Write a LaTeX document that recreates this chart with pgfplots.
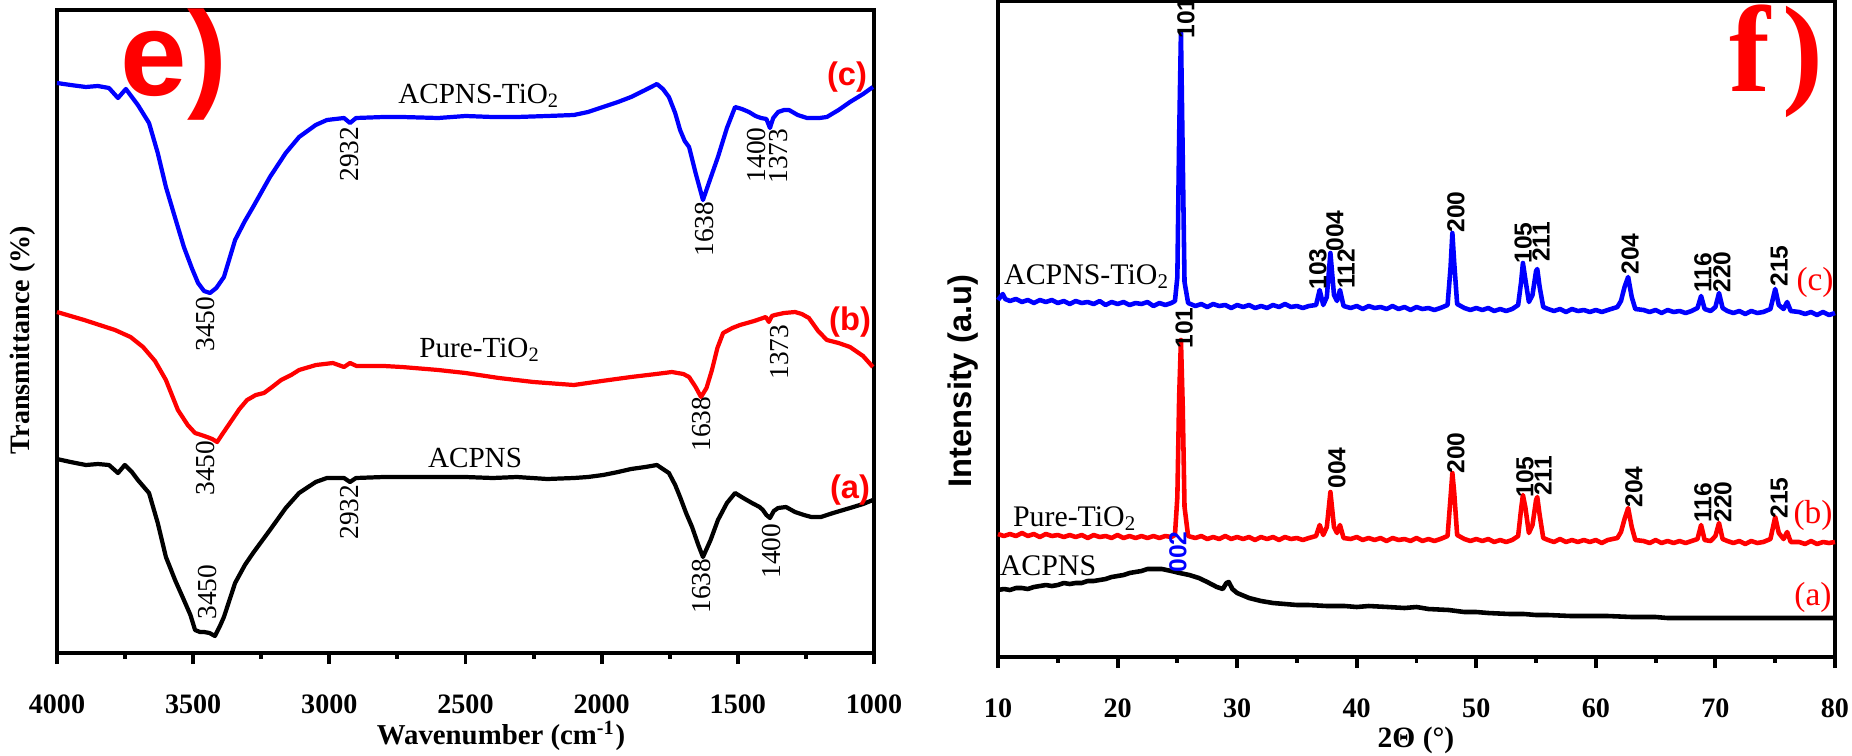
\documentclass[border=0pt]{standalone}
\usepackage{fontspec}
\setmainfont{Liberation Serif}
\setsansfont{Liberation Sans}
\usepackage{pgfplots}
\pgfplotsset{compat=1.18}
\newcommand\fs[1]{\fontsize{#1}{#1}\selectfont}

\pgfplotsset{
  panel/.style={
    scale only axis, anchor=south west, clip=false,
    ytick=\empty, tick align=outside, xtick pos=bottom,
    major tick length=1.1mm, minor tick length=0.55mm,
    minor x tick num=1,
    axis line style={line width=1.1pt},
    every tick/.style={line width=1.1pt, black},
    xticklabel style={font=\fs{8}\bfseries},
    /pgf/number format/assume math mode=true,
    /pgf/number format/1000 sep={},
    xticklabel shift=1.8mm,
  },
}
\tikzset{
  pk/.style={rotate=90, font=\fs{7.8}, inner sep=0pt},
  hkl/.style={rotate=90, font=\sffamily\bfseries\fs{7}, inner sep=0pt},
  cl/.style={font=\fs{8.3}, inner sep=0pt},
}

\begin{document}
\begin{tikzpicture}
\useasboundingbox (0,0) rectangle (18.52,7.55);

% ---------------- e) FTIR
\begin{axis}[panel, at={(0.57cm,1.02cm)}, width=8.17cm, height=6.43cm,
  x dir=reverse, xmin=1000, xmax=4000, ymin=0, ymax=643,
  xtick={1000,1500,...,4000}]
\addplot[blue, line width=1.2pt, line join=round] coordinates {
(4000,570)(3950,568)(3894,566)(3850,567)(3809,565)(3776,555)(3747,564)(3725,556)(3703,548)(3662,530)(3630,500)(3600,466)(3565,434)(3534,406)(3505,385)(3482,370)(3460,362)(3438,360)(3415,365)(3387,376)(3346,413)(3310,432)(3280,446)(3218,476)(3160,500)(3111,516)(3050,528)(3009,533)(2946,535)(2924,530)(2902,535)(2800,536)(2733,536)(2600,535)(2500,537)(2400,536)(2311,536)(2200,537)(2102,538)(2050,541)(1995,546)(1940,551)(1892,556)(1840,563)(1797,569)(1775,564)(1753,556)(1730,540)(1712,523)(1695,512)(1679,506)(1655,480)(1628,453)(1600,475)(1573,496)(1540,525)(1510,546)(1485,544)(1459,541)(1435,537)(1415,535)(1395,534)(1382,525)(1370,535)(1352,541)(1330,543)(1312,543)(1280,538)(1246,535)(1200,535)(1173,536)(1130,543)(1088,551)(1040,559)(1004,566)};
\addplot[red, line width=1.2pt, line join=round] coordinates {
(4000,341)(3900,333)(3787,323)(3730,316)(3684,306)(3640,292)(3600,273)(3556,243)(3520,228)(3493,220)(3470,218)(3449,216)(3430,214)(3412,211)(3390,220)(3365,230)(3330,244)(3302,253)(3270,258)(3240,260)(3210,266)(3177,273)(3140,278)(3111,283)(3049,288)(2987,290)(2946,286)(2924,290)(2900,287)(2800,287)(2733,286)(2600,283)(2500,280)(2377,275)(2250,271)(2102,268)(2000,272)(1892,276)(1800,279)(1742,281)(1700,279)(1679,276)(1655,266)(1635,256)(1615,265)(1595,283)(1575,305)(1554,320)(1520,325)(1492,328)(1440,332)(1397,336)(1386,331)(1375,337)(1364,338)(1330,340)(1290,341)(1265,339)(1239,335)(1205,322)(1173,313)(1130,310)(1088,306)(1040,297)(1004,286)};
\addplot[black, line width=1.2pt, line join=round] coordinates {
(4000,194)(3950,191)(3894,188)(3850,189)(3809,188)(3776,180)(3751,188)(3725,181)(3703,173)(3662,160)(3630,130)(3600,96)(3565,72)(3534,53)(3510,38)(3493,23)(3475,21)(3460,21)(3440,20)(3420,17)(3400,28)(3387,36)(3346,70)(3310,88)(3280,100)(3218,123)(3160,145)(3111,160)(3050,171)(3009,175)(2946,175)(2924,171)(2902,175)(2800,176)(2733,176)(2600,176)(2500,176)(2400,175)(2311,176)(2200,174)(2102,175)(2050,176)(1995,178)(1940,181)(1892,184)(1840,186)(1797,188)(1775,184)(1753,180)(1730,168)(1712,156)(1690,140)(1668,126)(1645,108)(1628,96)(1600,113)(1573,133)(1540,150)(1510,160)(1480,155)(1448,150)(1420,146)(1408,143)(1395,138)(1382,135)(1368,142)(1352,145)(1323,146)(1290,141)(1257,138)(1230,136)(1195,136)(1150,140)(1088,145)(1040,149)(1004,153)};
% peak labels
\node[pk] at (axis cs:3453,329) {3450};
\node[pk] at (axis cs:2924,499) {2932};
\node[pk] at (axis cs:1621,424) {1638};
\node[pk] at (axis cs:1433,498) {1400};
\node[pk] at (axis cs:1349,497) {1373};
\node[pk] at (axis cs:3453,185) {3450};
\node[pk] at (axis cs:1632,229) {1638};
\node[pk] at (axis cs:1345,301) {1373};
\node[pk] at (axis cs:3449,61) {3450};
\node[pk] at (axis cs:2924,141) {2932};
\node[pk] at (axis cs:1632,67) {1638};
\node[pk] at (axis cs:1378,102) {1400};
\node[cl] at (axis cs:2450,557) {ACPNS-TiO\textsubscript{2}};
\node[cl] at (axis cs:2447,303) {Pure-TiO\textsubscript{2}};
\node[cl] at (axis cs:2465,195) {ACPNS};
\node[font=\sffamily\bfseries\fs{9.3}, text=red, inner sep=0pt] at (axis cs:1099,576) {(c)};
\node[font=\sffamily\bfseries\fs{9.3}, text=red, inner sep=0pt] at (axis cs:1088,331) {(b)};
\node[font=\sffamily\bfseries\fs{9.3}, text=red, inner sep=0pt] at (axis cs:1088,163) {(a)};
\end{axis}

% ---------------- f) XRD
\begin{axis}[panel, at={(9.98cm,0.98cm)}, width=8.37cm, height=6.56cm,
  xmin=10, xmax=80, ymin=0, ymax=656, xtick={10,20,...,80},
  axis line style={line width=1.3pt}]
\addplot[blue, line width=1.3pt, line join=round] coordinates {
(10,357)(10.2,360)(10.4,363)(10.6,358)(11,356)(11.5,358)(12,355)(12.5,357)(13,354)(13.5,357)(14,355)(14.5,357)(15,354)(15.5,356)(16,353)(16.5,356)(17,354)(17.5,355)(18,353)(18.5,356)(19,352)(19.5,355)(20,353)(20.5,355)(21,352)(21.5,354)(22,353)(22.5,355)(23,351)(23.5,354)(24,352)(24.5,354)(24.8,356)(25.0,380)(25.15,520)(25.3,625)(25.45,500)(25.6,375)(25.9,354)(26.5,351)(27,353)(27.5,350)(28,353)(28.5,351)(29,352)(29.5,349)(30,352)(30.5,350)(31,352)(31.5,349)(32,351)(32.5,349)(33,352)(33.5,350)(34,353)(34.5,350)(35,351)(35.5,349)(36,351)(36.6,352)(36.9,367)(37.2,352)(37.5,360)(37.8,404)(38.1,362)(38.35,356)(38.6,367)(38.9,351)(39.5,349)(40,351)(40.5,348)(41,351)(41.5,349)(42,350)(42.5,348)(43,351)(43.5,348)(44,350)(44.5,347)(45,350)(45.5,348)(46,349)(46.5,347)(47,349)(47.6,352)(47.85,390)(48.0,424)(48.15,395)(48.4,353)(49,349)(49.5,347)(50,349)(50.5,347)(51,349)(51.5,346)(52,348)(52.5,346)(53,348)(53.5,352)(53.75,375)(53.9,394)(54.1,378)(54.4,355)(54.7,362)(55.0,386)(55.1,388)(55.3,370)(55.6,350)(56,348)(56.5,346)(57,348)(57.5,345)(58,348)(58.5,346)(59,347)(59.5,345)(60,347)(60.5,345)(61,347)(61.8,350)(62.1,356)(62.4,370)(62.7,380)(63.0,360)(63.3,348)(64,347)(64.5,345)(65,347)(65.5,344)(66,347)(66.5,345)(67,346)(67.5,344)(68,346)(68.5,349)(68.8,361)(69.1,348)(69.6,346)(70.0,350)(70.3,364)(70.6,349)(71,346)(71.5,344)(72,346)(72.5,343)(73,346)(73.5,344)(74,345)(74.6,348)(75.0,368)(75.3,352)(75.7,348)(76.0,355)(76.3,346)(77,345)(77.5,343)(78,345)(78.5,342)(79,345)(79.5,342)(80,344)};
\addplot[red, line width=1.3pt, line join=round] coordinates {
(10,123)(10.5,121)(11,123)(11.5,121)(12,124)(12.5,121)(13,123)(13.5,120)(14,123)(14.5,121)(15,122)(15.5,120)(16,122)(16.5,120)(17,122)(17.5,119)(18,122)(18.5,120)(19,121)(19.5,119)(20,122)(20.5,119)(21,121)(21.5,119)(22,121)(22.5,119)(23,121)(23.5,119)(24,121)(24.5,120)(24.8,122)(25.0,160)(25.15,260)(25.3,317)(25.45,250)(25.6,150)(25.9,121)(26.5,119)(27,121)(27.5,118)(28,120)(28.5,118)(29,121)(29.5,118)(30,120)(30.5,118)(31,120)(31.5,117)(32,120)(32.5,118)(33,120)(33.5,117)(34,120)(34.5,118)(35,119)(35.5,117)(36,119)(36.6,121)(36.9,132)(37.2,122)(37.5,130)(37.8,165)(38.1,130)(38.35,124)(38.6,132)(38.9,119)(39.5,118)(40,120)(40.5,117)(41,119)(41.5,117)(42,119)(42.5,116)(43,119)(43.5,117)(44,118)(44.5,116)(45,119)(45.5,116)(46,118)(46.5,116)(47,118)(47.6,121)(47.85,160)(48.0,184)(48.15,165)(48.4,122)(49,118)(49.5,116)(50,118)(50.5,116)(51,118)(51.5,115)(52,117)(52.5,115)(53,117)(53.5,121)(53.75,148)(53.9,162)(54.1,150)(54.4,124)(54.7,132)(55.0,157)(55.1,160)(55.3,142)(55.6,119)(56,117)(56.5,115)(57,118)(57.5,115)(58,117)(58.5,115)(59,117)(59.5,115)(60,117)(60.5,114)(61,117)(61.8,119)(62.1,125)(62.4,138)(62.7,149)(63.0,130)(63.3,117)(64,116)(64.5,114)(65,117)(65.5,114)(66,116)(66.5,114)(67,116)(67.5,114)(68,116)(68.5,118)(68.8,132)(69.1,117)(69.6,116)(70.0,121)(70.3,134)(70.6,118)(71,116)(71.5,114)(72,116)(72.5,113)(73,116)(73.5,114)(74,115)(74.6,118)(75.0,140)(75.3,124)(75.7,118)(76.0,125)(76.3,115)(77,115)(77.5,113)(78,116)(78.5,113)(79,115)(79.5,114)(80,115)};
\addplot[black, line width=1.3pt, line join=round] coordinates {
(10,67)(10.5,68)(11,67)(11.5,69)(12,69)(12.5,68)(13,70)(13.5,71)(14,72)(14.5,71)(15,72)(15.5,74)(16,73)(16.5,74)(17,74)(17.5,76)(18,76)(18.5,77)(19,78)(19.5,80)(20,81)(20.5,82)(21,84)(21.5,85)(22,86)(22.5,88)(23,88)(23.7,88)(24.5,86)(25.2,84)(26,82)(26.8,79)(27.5,75)(28.3,70)(28.8,68)(29.1,74)(29.3,75)(29.6,68)(30,64)(31,59)(32,56)(33,54)(34,53)(35,52)(36,52)(37.5,51)(39,51)(40,50)(41,51)(42.6,50)(44,49)(45,50)(46,48)(47.7,47)(49,45)(50,45)(51,44)(52.8,43)(54,43)(55,42)(56,42)(57.9,41)(60,41)(61,41)(63,40)(65,40)(66,39)(68,39)(70,39)(72,39)(74,39)(76,39)(78,39)(80,39)};
% hkl labels
\node[hkl] at (axis cs:25.72,639) {101};
\node[hkl] at (axis cs:36.76,388) {103};
\node[hkl] at (axis cs:38.18,426) {004};
\node[hkl] at (axis cs:39.10,388) {112};
\node[hkl] at (axis cs:48.30,445) {200};
\node[hkl] at (axis cs:53.91,414) {105};
\node[hkl] at (axis cs:55.41,415) {211};
\node[hkl] at (axis cs:62.86,403) {204};
\node[hkl] at (axis cs:68.96,384) {116};
\node[hkl] at (axis cs:70.55,385) {220};
\node[hkl] at (axis cs:75.32,391) {215};
\node[hkl] at (axis cs:25.56,329) {101};
\node[hkl] at (axis cs:38.35,189) {004};
\node[hkl] at (axis cs:48.30,204) {200};
\node[hkl] at (axis cs:54.07,180) {105};
\node[hkl] at (axis cs:55.58,181) {211};
\node[hkl] at (axis cs:63.19,170) {204};
\node[hkl] at (axis cs:68.96,154) {116};
\node[hkl] at (axis cs:70.63,155) {220};
\node[hkl] at (axis cs:75.32,159) {215};
\node[hkl, text=blue] at (axis cs:25.05,105) {002};
\node[cl, font=\fs{8.5}] at (axis cs:17.44,380) {ACPNS-TiO\textsubscript{2}};
\node[cl, font=\fs{8.5}] at (axis cs:16.44,138) {Pure-TiO\textsubscript{2}};
\node[cl, font=\fs{8.5}] at (axis cs:14.18,91) {ACPNS};
\node[font=\fs{9.5}, text=red, inner sep=0pt] at (axis cs:78.33,375) {(c)};
\node[font=\fs{9.5}, text=red, inner sep=0pt] at (axis cs:78.16,142) {(b)};
\node[font=\fs{9.5}, text=red, inner sep=0pt] at (axis cs:78.16,60) {(a)};
\end{axis}

% axis titles and panel letters
\node[font=\bfseries\fs{8.2}] at (5.01,0.19) {Wavenumber (cm\textsuperscript{-1})};
\node[font=\bfseries\fs{8.4}] at (14.16,0.15) {2Θ (°)};
\node[rotate=90, font=\bfseries\fs{8}] at (0.23,4.15) {Transmittance (\%)};
\node[rotate=90, font=\sffamily\bfseries\fs{9.3}] at (9.63,3.74) {Intensity (a.u)};
\node[anchor=base west, font=\sffamily\bfseries\fs{34}, text=red, inner sep=0pt] at (1.20,6.60) {e)};
\node[anchor=base west, font=\bfseries\fs{35}, text=red, inner sep=0pt] at (17.29,6.64) {f\kern0.1em)};
\end{tikzpicture}
\end{document}
